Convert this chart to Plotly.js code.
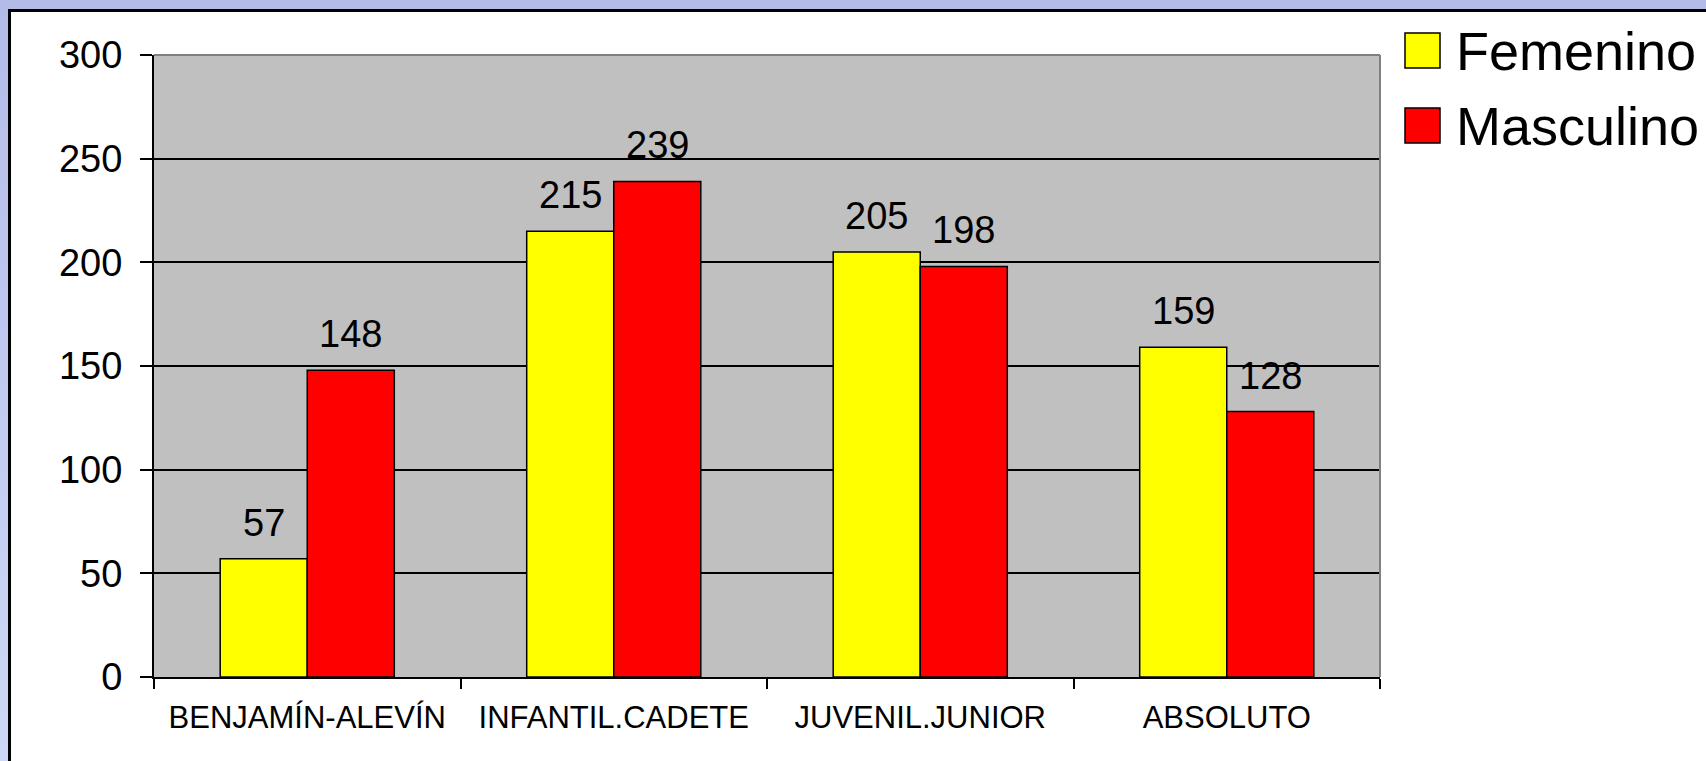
<!DOCTYPE html>
<html>
<head>
<meta charset="utf-8">
<script src="https://cdn.plot.ly/plotly-3.0.1.min.js"></script>
<style>
    html, body { margin: 0; padding: 0; }
    body {
        width: 1706px; height: 761px; overflow: hidden; position: relative;
        background: linear-gradient(to bottom, #b3bbe9 0%, #c3cdf2 60%, #cdd8f6 100%);
    }
    #marco {
        position: absolute; left: 8px; top: 9px; width: 1720px; height: 780px;
        background: #ffffff; border-left: 3px solid #000; border-top: 3px solid #000;
    }
    #grafico { position: absolute; left: 0; top: 0; width: 1706px; height: 761px; }
</style>
</head>
<body>
<div id="marco"></div>
<div id="grafico"></div>
<script>
'use strict';

/* Datos */
let categorias = ['BENJAMÍN-ALEVÍN', 'INFANTIL.CADETE', 'JUVENIL.JUNIOR', 'ABSOLUTO'];
let femenino = [57, 215, 205, 159];
let masculino = [148, 239, 198, 128];
let nombresSeries = ['Femenino', 'Masculino'];
let coloresSeries = ['#ffff00', '#ff0000'];

let fuente = 'Liberation Sans, Arial, sans-serif';
let series = [femenino, masculino];

let trazas = [];
for (let i = 0; i < series.length; i++) {
    trazas.push({
        type: 'bar',
        name: nombresSeries[i],
        x: categorias,
        y: series[i],
        marker: { color: coloresSeries[i], line: { color: '#000', width: 1.5 } },
        hoverinfo: 'x+y+name'
    });
}

// etiquetas de valor encima de cada barra
let anchoBarra = 87;
let anotaciones = [];
for (let i = 0; i < series.length; i++) {
    for (let j = 0; j < categorias.length; j++) {
        anotaciones.push({
            x: categorias[j], y: series[i][j], xref: 'x', yref: 'y',
            text: String(series[i][j]), showarrow: false,
            xshift: (i - 0.5) * anchoBarra, yshift: 13, yanchor: 'bottom',
            font: { family: fuente, size: 38, color: '#000' }
        });
    }
}

// leyenda propia (cuadros grandes como en el original)
let formas = [
    { type: 'line', xref: 'paper', yref: 'paper', x0: 0, x1: 1, y0: 1, y1: 1, line: { color: '#808080', width: 2 } },
    { type: 'line', xref: 'paper', yref: 'paper', x0: 1, x1: 1, y0: 0, y1: 1, line: { color: '#808080', width: 2 } }
];
for (let i = 0; i < nombresSeries.length; i++) {
    let arriba = 22 - i * 75;
    formas.push({
        type: 'rect', xref: 'paper', yref: 'paper', xsizemode: 'pixel', ysizemode: 'pixel',
        xanchor: 1, yanchor: 1, x0: 25, x1: 60, y0: arriba - 35, y1: arriba,
        fillcolor: coloresSeries[i], line: { color: '#000', width: 1.5 }
    });
    anotaciones.push({
        x: 1, y: 1, xref: 'paper', yref: 'paper', xanchor: 'left', yanchor: 'middle',
        xshift: 74, yshift: arriba - 17.5, text: nombresSeries[i], showarrow: false,
        font: { family: fuente, size: 54, color: '#000' }
    });
}

let layout = {
    width: 1706,
    height: 761,
    margin: { l: 154, r: 326, t: 55, b: 84 },
    paper_bgcolor: 'rgba(0,0,0,0)',
    plot_bgcolor: '#c0c0c0',
    showlegend: false,
    barmode: 'group',
    bargap: 0.432,
    bargroupgap: 0,
    font: { family: fuente, color: '#000' },
    xaxis: {
        type: 'category',
        showline: true, linecolor: '#000', linewidth: 2,
        ticks: 'outside', tickson: 'boundaries', ticklen: 10, tickwidth: 2, tickcolor: '#000',
        tickfont: { family: fuente, size: 31, color: '#000' },
        ticklabelstandoff: 12,
        showgrid: false
    },
    yaxis: {
        range: [0, 300], dtick: 50, autorange: false,
        showline: true, linecolor: '#000', linewidth: 2,
        ticks: 'outside', ticklen: 12, tickwidth: 2, tickcolor: '#000',
        tickfont: { family: fuente, size: 38, color: '#000' },
        ticklabelstandoff: 10,
        showgrid: true, gridcolor: '#000', gridwidth: 1.5,
        zeroline: false
    },
    shapes: formas,
    annotations: anotaciones
};

let config = { displayModeBar: false, staticPlot: false };

Plotly.newPlot('grafico', trazas, layout, config);
</script>
</body>
</html>
